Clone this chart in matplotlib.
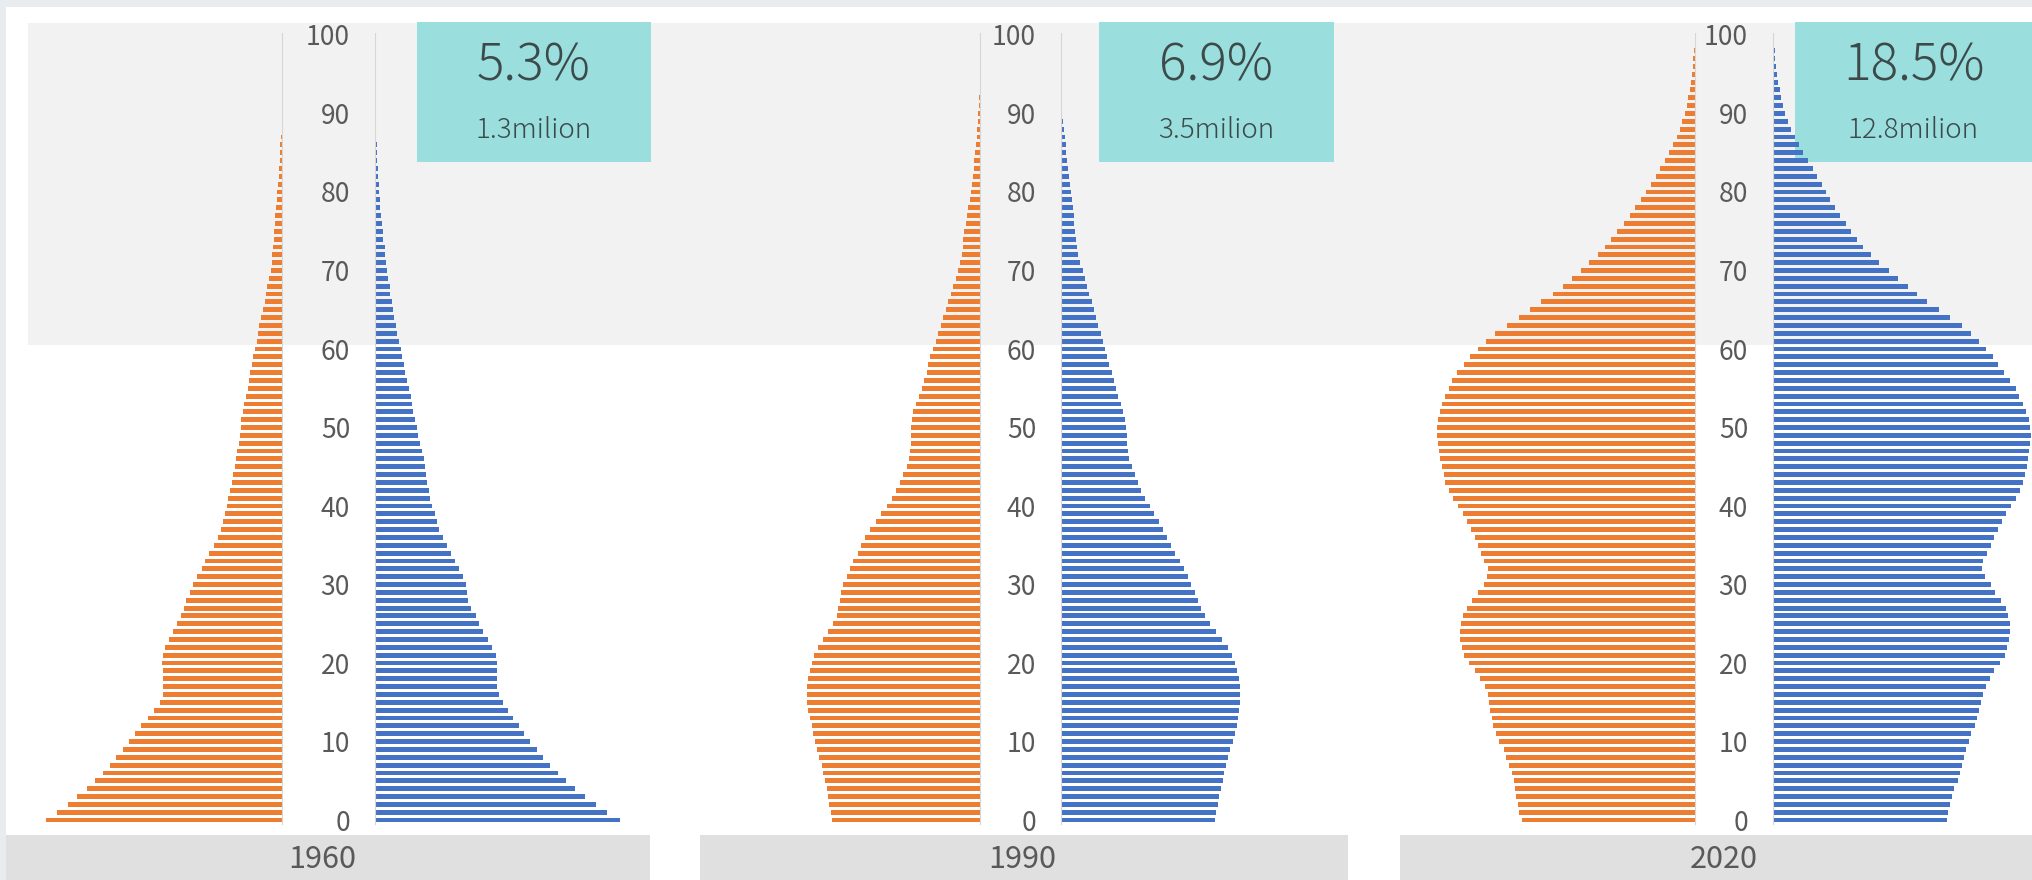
import matplotlib
matplotlib.use("Agg")
import matplotlib.pyplot as plt
from matplotlib.patches import Rectangle

plt.rcParams['font.family'] = ['Noto Sans CJK JP', 'DejaVu Sans']

years = ["1960", "1990", "2020"]
share_65 = ["5.3%", "6.9%", "18.5%"]
count_65 = ["1.3milion", "3.5milion", "12.8milion"]
ages = list(range(101))

# bar lengths per age 0..100
left_1960 = [617, 587, 560, 535, 510, 488, 469, 450, 433, 415,
             400, 385, 368, 350, 335, 320, 310, 310, 310, 312,
             313, 312, 305, 295, 285, 275, 265, 257, 250, 240,
             233, 222, 210, 200, 190, 178, 168, 160, 155, 150,
             145, 140, 135, 130, 127, 123, 120, 117, 113, 110,
             108, 107, 103, 98, 95, 90, 87, 83, 79, 75,
             70, 65, 62, 59, 55, 50, 45, 42, 39, 35,
             30, 27, 25, 23, 22, 20, 19, 17, 15, 14,
             12, 10, 9, 7, 6, 5, 4, 3, 1, 0,
             0, 0, 0, 0, 0, 0, 0, 0, 0, 0, 0]
right_1960 = [640, 605, 577, 548, 522, 500, 478, 458, 440, 422,
              405, 390, 375, 360, 347, 335, 325, 320, 320, 320,
              318, 315, 305, 295, 283, 272, 263, 252, 243, 240,
              237, 230, 220, 208, 198, 188, 178, 168, 162, 156,
              150, 145, 140, 137, 133, 130, 127, 122, 117, 113,
              110, 105, 100, 97, 93, 88, 83, 78, 75, 70,
              68, 63, 58, 55, 50, 48, 45, 40, 38, 35,
              32, 30, 27, 25, 22, 20, 18, 16, 14, 12,
              11, 10, 8, 7, 6, 5, 4, 3, 0, 0,
              0, 0, 0, 0, 0, 0, 0, 0, 0, 0, 0]
left_1990 = [443, 448, 452, 455, 460, 465, 470, 475, 482, 488,
             495, 500, 505, 510, 515, 518, 520, 520, 515, 510,
             505, 498, 485, 470, 455, 442, 430, 425, 420, 417,
             412, 400, 390, 380, 367, 357, 345, 330, 312, 298,
             280, 265, 252, 240, 230, 220, 213, 210, 208, 208,
             208, 205, 200, 192, 182, 175, 167, 160, 155, 150,
             142, 133, 125, 118, 110, 103, 95, 87, 80, 73,
             65, 60, 55, 52, 50, 47, 43, 38, 35, 30,
             27, 24, 21, 19, 17, 14, 12, 10, 8, 6,
             5, 3, 2, 0, 0, 0, 0, 0, 0, 0, 0]
right_1990 = [463, 466, 470, 475, 480, 486, 490, 495, 501, 508,
              516, 523, 528, 531, 533, 536, 536, 536, 533, 528,
              521, 513, 500, 483, 466, 448, 433, 420, 410, 401,
              391, 381, 370, 356, 343, 330, 318, 306, 293, 280,
              266, 253, 241, 231, 223, 213, 205, 200, 198, 197,
              196, 192, 187, 180, 172, 165, 158, 152, 145, 138,
              132, 127, 120, 112, 105, 100, 93, 85, 78, 72,
              65, 58, 52, 48, 45, 43, 40, 38, 36, 33,
              30, 27, 24, 21, 18, 16, 14, 12, 8, 5,
              2, 0, 0, 0, 0, 0, 0, 0, 0, 0, 0]
left_2020 = [450, 458, 462, 465, 468, 472, 478, 485, 492, 498,
             510, 518, 525, 530, 533, 537, 540, 547, 560, 573,
             590, 602, 608, 612, 612, 610, 605, 593, 580, 565,
             550, 542, 540, 550, 558, 565, 573, 583, 595, 605,
             618, 630, 642, 650, 655, 660, 665, 668, 670, 672,
             672, 670, 665, 658, 650, 642, 632, 620, 602, 585,
             565, 545, 520, 490, 458, 430, 400, 370, 345, 320,
             297, 275, 253, 235, 218, 202, 185, 170, 155, 140,
             128, 115, 102, 90, 78, 68, 58, 48, 40, 33,
             27, 22, 17, 14, 11, 8, 6, 4, 2, 1, 0.5]
right_2020 = [452, 457, 462, 465, 472, 482, 487, 492, 497, 502,
              510, 517, 525, 532, 537, 542, 547, 554, 564, 577,
              592, 604, 610, 614, 617, 617, 612, 607, 594, 579,
              567, 552, 544, 547, 557, 567, 577, 587, 597, 607,
              620, 634, 644, 652, 657, 662, 665, 667, 669, 672,
              669, 667, 660, 652, 642, 632, 617, 602, 587, 572,
              554, 537, 517, 492, 462, 432, 402, 375, 352, 325,
              302, 275, 255, 235, 219, 204, 190, 175, 162, 149,
              139, 127, 115, 104, 92, 79, 67, 57, 47, 39,
              32, 27, 22, 17, 13, 10, 8, 6, 4, 3, 2]

left_data = [left_1960, left_1990, left_2020]
right_data = [right_1960, right_1990, right_2020]

# layout in pixels (image 2032 x 880, y measured from top)
W, H = 2032, 880
outer_left = [28, 781, 1420]
inner_left = [282, 980, 1695]
inner_right = [375, 1061, 1773]
outer_right = [645, 1261, 2032]
units_per_px = [2.613, 3.0, 2.605]
ax_top_px, ax_bot_px = 23.2, 827.9
ylo, yhi = -1, 101.5

orange = "#ED7D31"
blue = "#4472C4"
tick_grey = "#595959"
text_dark = "#3C4A4A"

fig = plt.figure(figsize=(W / 100, H / 100), dpi=100)
fig.patch.set_facecolor("#E8ECEF")

# background decorations in pixel coordinates
bg = fig.add_axes([0, 0, 1, 1], zorder=-1)
bg.set_xlim(0, W)
bg.set_ylim(H, 0)
bg.axis("off")
bg.add_patch(Rectangle((6, 7), W - 6, H - 7, color="white", lw=0))
bg.add_patch(Rectangle((28, 23), W - 28, 345 - 23, color="#F2F2F2", lw=0))

teal_boxes = [(417, 651), (1099, 1334), (1795, 2032)]
year_boxes = [(6, 650), (700, 1348), (1400, 2032)]
year_x = [322, 1022, 1724]
for i in range(3):
    x0, x1 = teal_boxes[i]
    bg.add_patch(Rectangle((x0, 22), x1 - x0, 140, color="#9BDEDE", lw=0))
    cx = (x0 + x1) / 2
    bg.text(cx, 66, share_65[i], ha="center", va="center", fontsize=37,
            color=text_dark, fontweight="light")
    bg.text(cx, 130, count_65[i], ha="center", va="center", fontsize=20,
            color=text_dark, fontweight="light")
    y0, y1 = year_boxes[i]
    bg.add_patch(Rectangle((y0, 835), y1 - y0, H - 835, color="#E0E0E0", lw=0))
    bg.text(year_x[i], 860, years[i], ha="center", va="center", fontsize=22,
            color=tick_grey)

b = (H - ax_bot_px) / H
h = (ax_bot_px - ax_top_px) / H
for i in range(3):
    wl = inner_left[i] - outer_left[i]
    axl = fig.add_axes([outer_left[i] / W, b, wl / W, h])
    axl.barh(ages, left_data[i], height=0.62, color=orange)
    axl.set_xlim(wl * units_per_px[i], 0)

    wr = outer_right[i] - inner_right[i]
    axr = fig.add_axes([inner_right[i] / W, b, wr / W, h])
    axr.barh(ages, right_data[i], height=0.62, color=blue)
    axr.set_xlim(0, wr * units_per_px[i])

    for ax in (axl, axr):
        ax.set_ylim(ylo, yhi)
        ax.set_facecolor("none")
        for s in ax.spines.values():
            s.set_visible(False)
        ax.set_xticks([])
    axl.set_yticks([])
    axl.spines["right"].set_visible(True)
    axl.spines["right"].set_color("#D6D6D6")
    axl.spines["right"].set_bounds(-0.5, 100.3)
    axr.spines["left"].set_visible(True)
    axr.spines["left"].set_color("#D6D6D6")
    axr.spines["left"].set_bounds(-0.5, 100.3)
    axr.set_yticks(range(0, 101, 10))
    axr.tick_params(axis="y", length=0, pad=18, labelsize=19, labelcolor=tick_grey)

fig.savefig("out.png", dpi=100)
